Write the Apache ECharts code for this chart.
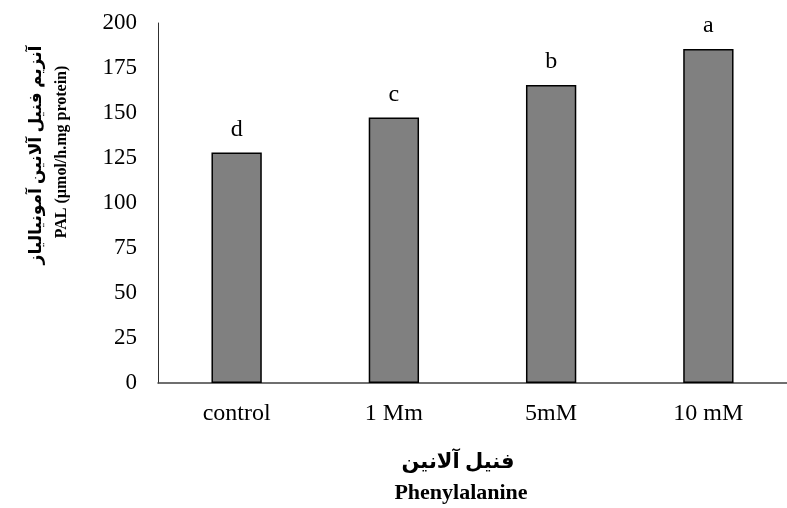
<!DOCTYPE html>
<html>
<head>
<meta charset="utf-8">
<script src="https://cdn.jsdelivr.net/npm/echarts@6/dist/echarts.min.js"></script>
<style>
  html, body { margin: 0; padding: 0; background: #fff; }
  #chart { width: 787px; height: 508px; }
</style>
</head>
<body>
<div id="chart"></div>
<script>
// PAL activity by phenylalanine treatment
var categories = ['control', '1 Mm', '5mM', '10 mM'];
var palValues = [128, 147.5, 165.5, 185.5];
var letters = ['d', 'c', 'b', 'a'];
var yTicks = { min: 0, max: 200, step: 25 };

var serif = "'Liberation Serif', 'Times New Roman', 'DejaVu Serif', serif";
var chart = echarts.init(document.getElementById('chart'));

chart.setOption({
    animation: false,
    grid: { left: 158, top: 23, width: 636, height: 360 },
    xAxis: {
        type: 'category',
        data: categories,
        axisLine: { show: true, lineStyle: { color: '#404040', width: 1.5 } },
        axisTick: { show: false },
        axisLabel: { margin: 19, fontSize: 24, color: '#000', fontFamily: serif }
    },
    yAxis: {
        type: 'value',
        min: yTicks.min,
        max: yTicks.max,
        interval: yTicks.step,
        splitLine: { show: false },
        axisLine: { show: true, lineStyle: { color: '#303030', width: 1 } },
        axisTick: { show: false },
        axisLabel: { margin: 21, fontSize: 23, color: '#000', fontFamily: serif }
    },
    series: [{
        type: 'bar',
        data: palValues,
        barWidth: '32%',
        itemStyle: { color: '#808080', borderColor: '#000', borderWidth: 1.5 },
        label: {
            show: true,
            position: 'top',
            distance: 11,
            fontSize: 24,
            color: '#000',
            fontFamily: serif,
            formatter: function (p) { return letters[p.dataIndex]; }
        }
    }],
    graphic: [
        { type: 'text', x: 458, y: 463, style: { text: 'فنیل آلانین', align: 'center', verticalAlign: 'middle',
            font: "bold 21px 'Liberation Serif', 'DejaVu Sans', serif", fill: '#000' } },
        { type: 'text', x: 461, y: 493, style: { text: 'Phenylalanine', align: 'center', verticalAlign: 'middle',
            font: "bold 22px " + serif, fill: '#000' } },
        { type: 'text', x: 37, y: 155, rotation: Math.PI / 2, style: { text: 'آنزیم فنیل آلانین آمونیالیاز', align: 'center', verticalAlign: 'middle',
            font: "bold 17px 'Liberation Serif', 'DejaVu Sans', serif", fill: '#000' } },
        { type: 'text', x: 62, y: 152, rotation: Math.PI / 2, style: { text: 'PAL (µmol/h.mg protein)', align: 'center', verticalAlign: 'middle',
            font: "bold 16px " + serif, fill: '#000' } }
    ]
});
</script>
</body>
</html>
